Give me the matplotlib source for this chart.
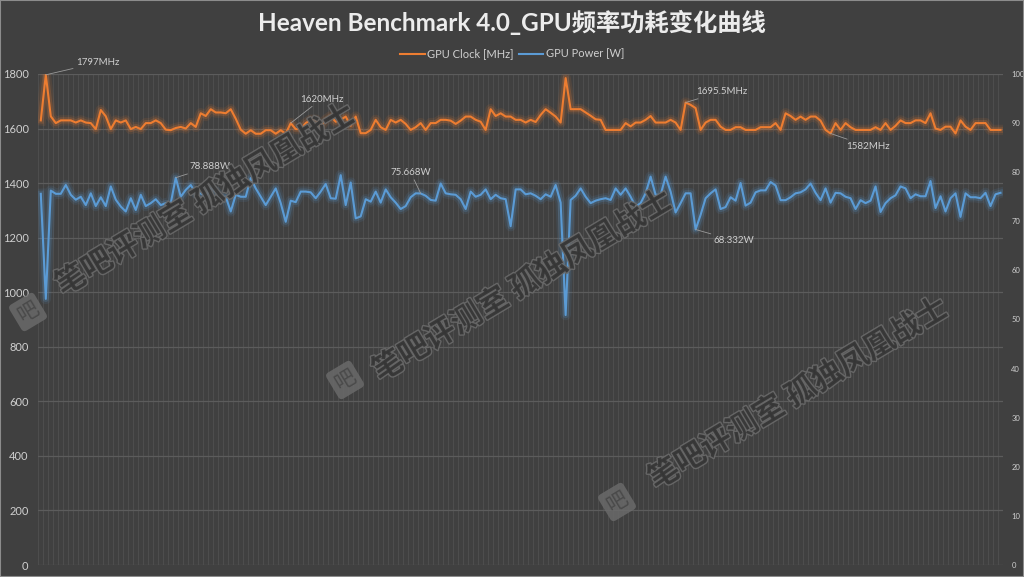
import numpy as np
import matplotlib
matplotlib.use("Agg")
import matplotlib.pyplot as plt
import matplotlib.patheffects as pe
from matplotlib.patches import Rectangle

# GPU clock per sample (MHz)
clock_mhz = [
    1630, 1797, 1645, 1620, 1630, 1630, 1630, 1622, 1630, 1622,
    1620, 1598, 1668, 1645, 1598, 1630, 1622, 1630, 1598, 1606,
    1598, 1620, 1620, 1630, 1620, 1596, 1594, 1602, 1606, 1600,
    1620, 1606, 1656, 1646, 1671, 1659, 1659, 1656, 1671, 1636,
    1596, 1581, 1594, 1581, 1581, 1594, 1594, 1581, 1594, 1581,
    1620, 1598, 1598, 1620, 1632, 1632, 1608, 1632, 1645, 1625,
    1632, 1644, 1610, 1644, 1583, 1583, 1595, 1632, 1605, 1595,
    1632, 1622, 1632, 1617, 1595, 1605, 1620, 1595, 1620, 1620,
    1632, 1632, 1629, 1617, 1629, 1644, 1644, 1632, 1625, 1595,
    1671, 1646, 1656, 1644, 1644, 1632, 1632, 1622, 1632, 1624,
    1650, 1671, 1658, 1644, 1622, 1785, 1671, 1671, 1671, 1659,
    1647, 1634, 1632, 1595, 1595, 1595, 1595, 1620, 1608, 1622,
    1622, 1632, 1646, 1622, 1622, 1622, 1632, 1622, 1595, 1695.5,
    1687, 1675, 1595, 1622, 1632, 1632, 1607, 1595, 1595, 1605,
    1605, 1595, 1595, 1595, 1605, 1605, 1605, 1620, 1595, 1656,
    1646, 1632, 1644, 1632, 1644, 1644, 1629, 1595, 1582, 1620,
    1595, 1620, 1605, 1595, 1595, 1595, 1595, 1605, 1595, 1620,
    1595, 1610, 1630, 1620, 1620, 1630, 1630, 1620, 1656, 1600,
    1595, 1607, 1607, 1582, 1630, 1607, 1595, 1620, 1620, 1620,
    1595, 1595, 1595,
]

# GPU power per sample (W)
power_w = [
    75.6, 54.2, 76.25, 75.6, 75.6, 77.4, 75.4, 74.4, 75.0, 73.3,
    75.7, 73.1, 74.9, 73.1, 77.1, 74.4, 73.0, 72.0, 74.7, 72.3,
    75.4, 73.1, 73.7, 74.5, 73.3, 73.7, 73.7, 78.888, 75.0, 76.4,
    77.4, 75.7, 75.7, 75.0, 76.7, 76.05, 75.0, 75.0, 72.0, 75.4,
    75.0, 75.0, 78.8, 76.7, 75.0, 73.3, 75.0, 76.7, 73.7, 69.9,
    74.2, 73.9, 76.05, 76.05, 75.9, 74.7, 76.05, 77.6, 74.7, 74.6,
    79.4, 73.3, 77.9, 70.6, 71.0, 74.5, 74.0, 76.05, 73.8, 76.5,
    74.9, 73.8, 72.5, 73.1, 74.9, 75.7, 75.668, 75.2, 74.35, 74.2,
    77.7, 75.7, 75.5, 75.4, 74.5, 72.5, 76.05, 75.0, 75.4, 76.5,
    74.5, 75.4, 74.7, 74.5, 69.0, 76.5, 76.5, 75.5, 75.7, 75.2,
    74.5, 75.5, 75.0, 77.4, 73.8, 50.9, 74.35, 75.2, 76.7, 75.0,
    73.7, 74.2, 74.5, 74.7, 74.35, 76.7, 75.4, 76.7, 75.0, 73.0,
    73.7, 75.7, 79.1, 75.4, 75.4, 79.1, 76.05, 71.8, 73.7, 75.7,
    75.7, 68.332, 71.3, 74.7, 75.7, 76.5, 72.5, 72.9, 74.9, 74.2,
    77.8, 73.2, 73.8, 75.9, 76.3, 76.3, 78.0, 77.3, 74.3, 74.3,
    74.9, 75.7, 75.9, 76.5, 77.7, 75.8, 74.3, 76.7, 73.8, 75.8,
    75.7, 75.0, 74.7, 72.5, 74.3, 73.7, 74.2, 77.1, 71.9, 73.7,
    74.7, 75.3, 77.1, 76.7, 74.7, 75.5, 75.1, 75.1, 78.2, 72.7,
    75.1, 72.0, 74.7, 75.7, 70.9, 75.7, 74.9, 74.9, 74.7, 75.8,
    73.1, 75.5, 75.8,
]

left_ticks = list(range(0, 1801, 200))
right_ticks = list(range(0, 101, 10))

title = "Heaven Benchmark 4.0_GPU频率功耗变化曲线"
series_names = ["GPU Clock [MHz]", "GPU Power [W]"]
watermark = "笔吧评测室 孤独凤凰战士"

# labelled points: (index, text, offset in pixels)
clock_labels = [(1, "1797MHz", (30, 12)), (50, "1620MHz", (9, 24)),
                (129, "1695.5MHz", (11, 11)), (158, "1582MHz", (16, -13))]
power_labels = [(27, "78.888W", (14, 11)), (76, "75.668W", (-10, 21)),
                (131, "68.332W", (18, -11))]

ORANGE = "#ED7D31"
BLUE = "#5B9BD5"
BG = "#404040"
TXT = "#cfcfcf"

plt.rcParams["font.family"] = ["Lato", "Noto Sans CJK SC", "DejaVu Sans"]

W, H = 1024, 577
fig = plt.figure(figsize=(W / 100, H / 100), dpi=100, facecolor=BG)
ax = fig.add_axes([38.3 / W, 12 / H, (1003 - 38.3) / W, 491 / H])
ax.set_facecolor(BG)
ax2 = ax.twinx()

n = len(clock_mhz)
x = np.arange(n)
ax.set_xlim(-0.5, n - 0.5)
ax.set_ylim(0, 1800)
ax2.set_ylim(0, 100)

ax.set_xticks(np.arange(n + 1) - 0.5)
ax.tick_params(axis="x", length=0, labelbottom=False)
ax.grid(axis="x", color="#4e4e4e", lw=0.7)
ax.grid(axis="y", color="#5c5c5c", lw=0.9)
ax.set_axisbelow(True)
ax.set_yticks(left_ticks)
ax.tick_params(axis="y", length=0, pad=7, labelsize=8, labelcolor=TXT)
ax2.set_yticks(right_ticks)
ax2.tick_params(axis="y", length=0, pad=6, labelsize=5.5, labelcolor=TXT)
for a in (ax, ax2):
    for s in a.spines.values():
        s.set_visible(False)

# lines with a soft glow
for lw, al in [(7.5, 0.10), (4.5, 0.2)]:
    ax.plot(x, clock_mhz, color=ORANGE, lw=lw, alpha=al, solid_joinstyle="round")
    ax2.plot(x, power_w, color=BLUE, lw=lw, alpha=al, solid_joinstyle="round")
l1, = ax.plot(x, clock_mhz, color=ORANGE, lw=1.5)
l2, = ax2.plot(x, power_w, color=BLUE, lw=1.5)

arrow = dict(arrowstyle="-", color="#9a9a9a", lw=0.6, shrinkA=0, shrinkB=0)
for i, t, off in clock_labels:
    ax.annotate(t, xy=(i, clock_mhz[i]), xytext=off, textcoords="offset pixels",
                ha="left" if off[0] > 0 else "center", va="center",
                fontsize=7, color=TXT, arrowprops=arrow)
for i, t, off in power_labels:
    ax2.annotate(t, xy=(i, power_w[i]), xytext=off, textcoords="offset pixels",
                 ha="left" if off[0] > 0 else "center", va="center",
                 fontsize=7, color=TXT, arrowprops=arrow)

fig.text(0.5, 1 - 22 / H, title, ha="center", va="center", fontsize=17.5,
         fontweight="bold", color="#ececec")
fig.legend([l1, l2], series_names, loc="center", bbox_to_anchor=(0.5, 1 - 54 / H),
           ncol=2, frameon=False, fontsize=8, labelcolor=TXT, handlelength=2.2,
           columnspacing=0.5, handletextpad=0.2)

# watermarks
for cx, cy, lx, ly in [(205, 200, 28, 312), (522, 286, 345, 380), (798, 394, 617, 502)]:
    fig.text(cx / W, 1 - cy / H, watermark, rotation=31, ha="center", va="center",
             fontsize=22, fontweight="bold", color="#353535", alpha=0.9,
             family=["Noto Sans CJK SC"], zorder=10,
             path_effects=[pe.Stroke(linewidth=2, foreground="#6a6a6a"), pe.Normal()])
    fig.text(lx / W, 1 - ly / H, "吧", rotation=31, ha="center", va="center",
             fontsize=15, color="#4a4a4a", family=["Noto Sans CJK SC"], zorder=10,
             bbox=dict(boxstyle="round,pad=0.2", fc="#6c6c6c", ec="none", alpha=0.8))

fig.patches.append(Rectangle((0, 0), 1, 1, transform=fig.transFigure, fill=False,
                             ec="#8c8c8c", lw=1.5))

fig.savefig("out.png", dpi=100, facecolor=BG)
